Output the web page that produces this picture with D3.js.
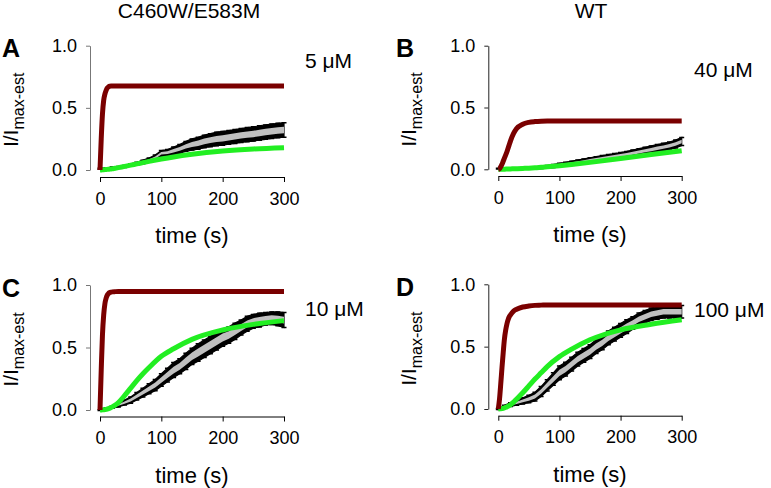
<!DOCTYPE html>
<html><head><meta charset="utf-8">
<script src="https://cdn.jsdelivr.net/npm/d3@7"></script>
<style>body{margin:0;background:#fff}svg{display:block}text{font-family:"Liberation Sans",Arial,sans-serif}</style>
</head><body><svg id="c" width="771" height="488"></svg>
<script>
// ---- data ----
const xTicks = [0, 100, 200, 300];
const yTicks = [0.0, 0.5, 1.0];
const columnTitles = ["C460W/E583M", "WT"];
const panelLetters = ["A", "B", "C", "D"];
const concLabels = ["5 μM", "40 μM", "10 μM", "100 μM"];

const fitTime = [0,2,4,6,8,10,12,14,16,18,20,25,30,40,50,60,70,80,100,120,150,200,250,300];
const redA = [0,0.25,0.45,0.56,0.61,0.64,0.66,0.67,0.674,0.675,0.675,0.675,0.675,0.675,0.675,0.675,0.675,0.675,0.675,0.675,0.675,0.675,0.675,0.675];
const greenA = [0,0.0005,0.001,0.002,0.003,0.004,0.005,0.006,0.007,0.008,0.01,0.014,0.019,0.029,0.039,0.049,0.059,0.069,0.088,0.105,0.126,0.152,0.169,0.18];
const redB = [0,0.005,0.02,0.04,0.065,0.09,0.115,0.14,0.17,0.2,0.23,0.29,0.33,0.365,0.38,0.386,0.389,0.39,0.39,0.39,0.39,0.39,0.39,0.39];
const greenB = [0,0,0,0.0005,0.001,0.001,0.0015,0.002,0.002,0.0025,0.003,0.004,0.005,0.007,0.009,0.012,0.016,0.02,0.029,0.039,0.056,0.088,0.12,0.15];
const redC = [0,0.32,0.6,0.76,0.85,0.895,0.92,0.933,0.94,0.943,0.945,0.947,0.948,0.948,0.948,0.948,0.948,0.948,0.948,0.948,0.948,0.948,0.948,0.948];
const greenC = [0,0.0005,0.001,0.002,0.003,0.005,0.008,0.011,0.015,0.02,0.025,0.04,0.06,0.115,0.175,0.235,0.29,0.34,0.43,0.49,0.565,0.64,0.685,0.715];
const redD = [0,0.08,0.2,0.33,0.45,0.56,0.63,0.68,0.715,0.74,0.755,0.785,0.8,0.818,0.826,0.831,0.833,0.835,0.835,0.835,0.835,0.835,0.835,0.835];
const greenD = [0,0.001,0.002,0.004,0.006,0.009,0.013,0.017,0.022,0.028,0.035,0.055,0.08,0.13,0.185,0.24,0.29,0.34,0.42,0.48,0.555,0.635,0.68,0.715];

const dataTime = [0,10,20,30,40,50,60,70,80,90,100,110,120,130,140,150,160,170,180,190,200,210,220,230,240,250,260,270,280,290,300];
const meanA = [0.01,0.012,0.018,0.022,0.028,0.04,0.05,0.065,0.08,0.1,0.135,0.14,0.155,0.17,0.19,0.205,0.215,0.23,0.24,0.25,0.255,0.262,0.27,0.278,0.285,0.29,0.298,0.305,0.312,0.318,0.322];
const semA = [0.004,0.005,0.006,0.007,0.008,0.01,0.012,0.014,0.016,0.02,0.022,0.025,0.03,0.035,0.04,0.045,0.048,0.05,0.052,0.054,0.055,0.055,0.056,0.056,0.057,0.057,0.058,0.058,0.058,0.058,0.058];
const meanB = [0.005,0.005,0.006,0.007,0.008,0.01,0.012,0.015,0.02,0.026,0.034,0.042,0.05,0.058,0.066,0.074,0.082,0.09,0.098,0.105,0.112,0.12,0.13,0.14,0.15,0.16,0.17,0.18,0.19,0.205,0.225];
const semB = [0.003,0.003,0.004,0.005,0.006,0.007,0.008,0.009,0.01,0.012,0.014,0.015,0.016,0.017,0.018,0.019,0.02,0.021,0.022,0.023,0.024,0.025,0.026,0.027,0.028,0.029,0.03,0.03,0.031,0.032,0.033];
const meanC = [0.0,0.01,0.025,0.04,0.06,0.08,0.11,0.14,0.17,0.2,0.24,0.28,0.32,0.35,0.39,0.43,0.46,0.49,0.52,0.55,0.58,0.6,0.63,0.66,0.69,0.71,0.72,0.73,0.735,0.73,0.72];
const semC = [0.003,0.006,0.01,0.015,0.02,0.025,0.03,0.035,0.04,0.045,0.05,0.055,0.06,0.06,0.065,0.065,0.07,0.07,0.07,0.07,0.07,0.065,0.065,0.06,0.06,0.055,0.055,0.05,0.05,0.055,0.06];
const meanD = [0.0,0.02,0.035,0.05,0.065,0.08,0.1,0.14,0.19,0.24,0.29,0.32,0.36,0.4,0.43,0.46,0.5,0.53,0.57,0.6,0.63,0.66,0.69,0.72,0.74,0.76,0.77,0.78,0.78,0.78,0.78];
const semD = [0.005,0.01,0.015,0.02,0.025,0.03,0.035,0.04,0.045,0.05,0.055,0.055,0.055,0.055,0.055,0.055,0.055,0.055,0.055,0.055,0.055,0.055,0.05,0.05,0.05,0.05,0.05,0.05,0.05,0.05,0.05];

// ---- layout ----
const panels = [
  {letter:0, conc:0, red:redA, green:greenA, mean:meanA, sem:semA, x0:100, x1:284, yTop:45.7, yBot:170, xAxisY:177, yAxisX:90, axisCol:"#777", letterX:2, concX:305, concY:68},
  {letter:1, conc:1, red:redB, green:greenB, mean:meanB, sem:semB, x0:498.3, x1:681.7, yTop:45.7, yBot:169.3, xAxisY:176, yAxisX:488.3, axisCol:"#222", letterX:396, concX:694, concY:77},
  {letter:2, conc:2, red:redC, green:greenC, mean:meanC, sem:semC, x0:100, x1:284, yTop:285, yBot:410, xAxisY:416.5, yAxisX:90, axisCol:"#777", letterX:2, concX:305, concY:316},
  {letter:3, conc:3, red:redD, green:greenD, mean:meanD, sem:semD, x0:498.3, x1:681.7, yTop:284.3, yBot:409, xAxisY:415.7, yAxisX:488.3, axisCol:"#222", letterX:396, concX:694, concY:317}
];

const svg = d3.select("#c");
svg.append("text").attr("x",189).attr("y",18).attr("text-anchor","middle").attr("font-size",21).text(columnTitles[0]);
svg.append("text").attr("x",591).attr("y",18).attr("text-anchor","middle").attr("font-size",21).text(columnTitles[1]);

panels.forEach(p => {
  const x = d3.scaleLinear().domain([0,300]).range([p.x0,p.x1]);
  const y = d3.scaleLinear().domain([0,1]).range([p.yBot,p.yTop]);
  const g = svg.append("g");

  // y axis
  const ya = g.append("g").attr("transform",`translate(${p.yAxisX},0)`)
    .call(d3.axisLeft(y).tickValues(yTicks).tickFormat(d3.format(".1f")).tickSize(4).tickSizeOuter(0).tickPadding(9));
  ya.select(".domain").attr("stroke",p.axisCol);
  ya.selectAll(".tick line").attr("stroke",p.axisCol);
  ya.selectAll("text").attr("font-size",18).attr("font-family","Liberation Sans, Arial, sans-serif").attr("fill","#000");

  // x axis
  const xa = g.append("g").attr("transform",`translate(0,${p.xAxisY})`)
    .call(d3.axisBottom(x).tickValues(xTicks).tickSize(5).tickSizeOuter(0).tickPadding(10));
  xa.select(".domain").attr("stroke","#000");
  xa.selectAll("text").attr("font-size",18).attr("font-family","Liberation Sans, Arial, sans-serif").attr("fill","#000");

  // labels
  g.append("text").attr("x",(p.x0+p.x1)/2).attr("y",p.xAxisY+66).attr("text-anchor","middle").attr("font-size",22).text("time (s)");
  const yl = g.append("text").attr("transform",`translate(${p.yAxisX-72},${(p.yTop+p.yBot)/2+2}) rotate(-90)`)
    .attr("text-anchor","middle").attr("font-size",21);
  yl.append("tspan").text("I/I");
  yl.append("tspan").attr("font-size",16).attr("dy",6).text("max-est");
  g.append("text").attr("x",p.letterX).attr("y",p.yTop+11.5).attr("font-size",25).attr("font-weight","bold").text(panelLetters[p.letter]);
  g.append("text").attr("x",p.concX).attr("y",p.concY).attr("font-size",21).text(concLabels[p.conc]);

  // data band
  const pts = dataTime.map((t,i)=>({t, m:p.mean[i], s:p.sem[i]}));
  g.append("path").datum(pts).attr("fill","#000").attr("stroke","#000").attr("stroke-width",1.2)
    .attr("d", d3.area().x(d=>x(d.t)).y0(d=>y(d.m-d.s)).y1(d=>y(d.m+d.s)));
  g.selectAll(".cap").data(pts).join("path").attr("stroke","#000").attr("stroke-width",1.5)
    .attr("d", d=>`M${x(d.t)-2.5},${y(d.m+d.s)}h5M${x(d.t)-2.5},${y(d.m-d.s)}h5`);
  g.append("path").datum(pts).attr("fill","#c0c0c0")
    .attr("d", d3.area().x(d=>x(d.t)).y0(d=>y(d.m-d.s*0.45)).y1(d=>y(d.m+d.s*0.45)));

  // fits
  const line = d3.line().x(d=>x(d[0])).y(d=>y(d[1])).curve(d3.curveMonotoneX);
  g.append("path").datum(fitTime.map((t,i)=>[t,p.green[i]])).attr("fill","none").attr("stroke","#22ee22").attr("stroke-width",5).attr("d",line);
  g.append("path").datum(fitTime.map((t,i)=>[t,p.red[i]])).attr("fill","none").attr("stroke","#7a0000").attr("stroke-width",5).attr("d",line);
});
</script></body></html>
